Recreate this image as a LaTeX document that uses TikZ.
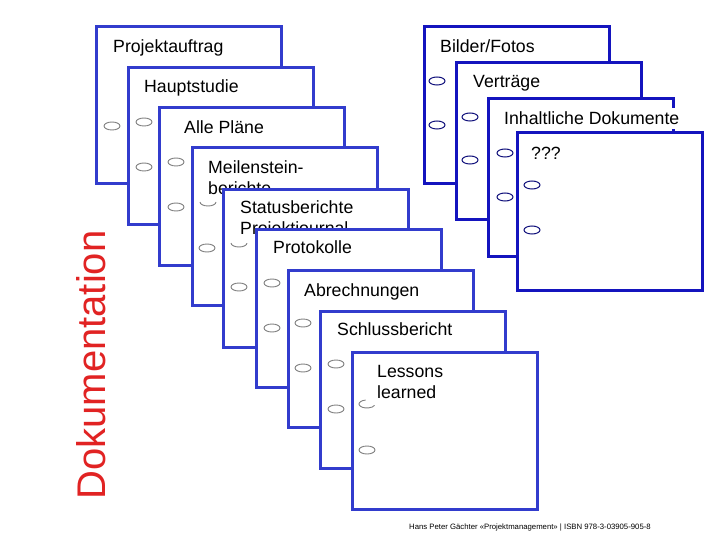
\documentclass[tikz,border=0pt]{standalone}
\usepackage{fontspec}
\setmainfont{Liberation Sans}
\usetikzlibrary{calc}

\begin{document}
\begin{tikzpicture}[
        x=1pt, y=-1pt,
        cardL/.style={rectangle, draw={rgb,255:red,50;green,60;blue,205}, line width=3pt,
            fill=white, inner sep=0pt, outer sep=0pt,
            minimum width=185pt, minimum height=157pt, anchor=north west},
        cardR/.style={cardL, draw={rgb,255:red,20;green,20;blue,190}},
        cardtext/.style={anchor=base west, align=left, fill=white,
            inner xsep=1pt, inner ysep=4pt, font=\fontsize{17.7}{21}\selectfont},
        holeL/.style={draw=gray, line width=0.9pt},
        holeR/.style={draw={rgb,255:red,10;green,10;blue,120}, line width=1pt},
    ]
    \newcommand{\cardhole}[3]{\draw[#1] ($(#2.north west)+#3$) ellipse[x radius=8, y radius=4];}
    \path[use as bounding box, fill=white] (0,0) rectangle (720,540);

        % Left stack
        \node[cardL] (c1) at (96,27) {};
        \cardhole{holeL}{c1}{(16,99)}
        \node[cardtext] (t1) at ($(c1.north west)+(16,26)$) {Projektauftrag};

        \node[cardL] (c2) at (128,68) {};
        \cardhole{holeL}{c2}{(16,54)}
        \cardhole{holeL}{c2}{(16,99)}
        \node[cardtext] (t2) at ($(c2.north west)+(15,25)$) {Hauptstudie};

        \node[cardL] (c3) at (159,108) {};
        \cardhole{holeL}{c3}{(17,54)}
        \cardhole{holeL}{c3}{(17,99)}
        \node[cardtext] (t3) at ($(c3.north west)+(24,26)$) {Alle Pläne};

        \node[cardL] (c4) at (192,148) {};
        \draw[holeL] ($(c4.north west)+(8,54)$) arc[start angle=180, end angle=0, x radius=8, y radius=4];
        \cardhole{holeL}{c4}{(15,100)}
        \node[cardtext] (t4) at ($(c4.north west)+(15,47)$) {Meilenstein-\\berichte};

        \node[cardL] (c5) at (223,190) {};
        \draw[holeL] ($(c5.north west)+(8,53)$) arc[start angle=180, end angle=0, x radius=8, y radius=4];
        \cardhole{holeL}{c5}{(16,97)}
        \node[cardtext] (t5) at ($(c5.north west)+(16,45)$) {Statusberichte\\Projektjournal};

        \node[cardL] (c6) at (256,230) {};
        \cardhole{holeL}{c6}{(16,53)}
        \cardhole{holeL}{c6}{(16,98)}
        \node[cardtext] (t6) at ($(c6.north west)+(16,24)$) {Protokolle};

        \node[cardL] (c7) at (288,270) {};
        \cardhole{holeL}{c7}{(15,53)}
        \cardhole{holeL}{c7}{(15,98)}
        \node[cardtext] (t7) at ($(c7.north west)+(15,26)$) {Abrechnungen};

        \node[cardL] (c8) at (320,311) {};
        \cardhole{holeL}{c8}{(16,53)}
        \cardhole{holeL}{c8}{(16,98)}
        \node[cardtext] (t8) at ($(c8.north west)+(16,24)$) {Schlussbericht};

        \node[cardL] (c9) at (352,352) {};
        \draw[holeL] ($(c9.north west)+(15,52)+(260:8 and 4)$) arc[start angle=260, end angle=20, x radius=8, y radius=4];
        \cardhole{holeL}{c9}{(15,98)}
        \node[cardtext] (t9) at ($(c9.north west)+(24,46)$) {Lessons\\learned};

        % Right stack
        \node[cardR] (r1) at (424,27) {};
        \cardhole{holeR}{r1}{(13,54)}
        \cardhole{holeR}{r1}{(13,98)}
        \node[cardtext] (s1) at ($(r1.north west)+(15,26)$) {Bilder/Fotos};

        \node[cardR] (r2) at (456,63) {};
        \cardhole{holeR}{r2}{(14,54)}
        \cardhole{holeR}{r2}{(14,97)}
        \node[cardtext] (s2) at ($(r2.north west)+(16,25)$) {Verträge};

        \node[cardR] (r3) at (488,99) {};
        \cardhole{holeR}{r3}{(17,54)}
        \cardhole{holeR}{r3}{(17,98)}
        \node[cardtext] (s3) at ($(r3.north west)+(15,26)$) {Inhaltliche Dokumente};

        \node[cardR] (r4) at (517,133) {};
        \cardhole{holeR}{r4}{(15,52)}
        \cardhole{holeR}{r4}{(15,97)}
        \node[cardtext] (s4) at ($(r4.north west)+(13,27)$) {???};

        % Side title and credit line
        \node[rotate=90, inner sep=0pt, text={rgb,255:red,225;green,35;blue,35},
              font=\fontsize{40}{42}\selectfont] (title) at (91,365) {Dokumentation};
        \node[anchor=base west, inner sep=0pt, font=\fontsize{7.75}{9}\selectfont]
            (credit) at (409,529) {Hans Peter Gächter «Projektmanagement» | ISBN 978-3-03905-905-8};

    \end{tikzpicture}
\end{document}
